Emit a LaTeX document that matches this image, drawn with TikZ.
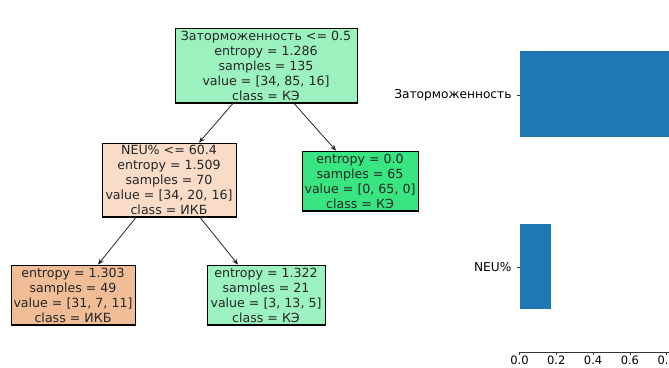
\documentclass[tikz,border=0pt]{standalone}
\usepackage{fontspec}
\setmainfont{DejaVu Sans}
\usetikzlibrary{arrows.meta}
\definecolor{cRoot}{RGB}{155,242,191}
\definecolor{cNeu}{RGB}{248,220,200}
\definecolor{cLeafG}{RGB}{57,229,129}
\definecolor{cLL}{RGB}{241,189,151}
\definecolor{cLR}{RGB}{156,242,192}
\definecolor{barblue}{RGB}{31,119,180}
\tikzset{
  treebox/.style={draw=black, line width=0.8pt, inner sep=0pt, align=center,
    font=\fontsize{12.6}{15}\selectfont, text=black!85},
  edge/.style={draw=black!85, line width=0.8pt, -{Stealth[length=6pt,width=5pt]}},
  shadowline/.style={line width=2pt, black},
  ticklab/.style={font=\fontsize{11.5}{13}\selectfont, text=black, inner sep=1pt},
  featlab/.style={font=\fontsize{12.2}{14}\selectfont, text=black, anchor=east},
  bar/.style={fill=barblue, draw=none}
}
\begin{document}
\begin{tikzpicture}[x=1pt,y=-1pt]
\useasboundingbox (0,0) rectangle (669,367);
\clip (0,0) rectangle (669,367);
% tree nodes
\node[treebox, fill=cRoot, minimum width=182pt, minimum height=75pt] (root) at (266,65.5)
  {Заторможенность <= 0.5\\entropy = 1.286\\samples = 135\\value = [34, 85, 16]\\class = КЭ};
\node[treebox, fill=cNeu, minimum width=134pt, minimum height=74pt] (neu) at (169,180)
  {NEU\% <= 60.4\\entropy = 1.509\\samples = 70\\value = [34, 20, 16]\\class = ИКБ};
\node[treebox, fill=cLeafG, minimum width=116pt, minimum height=60pt] (rleaf) at (360,181)
  {entropy = 0.0\\samples = 65\\value = [0, 65, 0]\\class = КЭ};
\node[treebox, fill=cLL, minimum width=124pt, minimum height=60pt] (ll) at (73,295)
  {entropy = 1.303\\samples = 49\\value = [31, 7, 11]\\class = ИКБ};
\node[treebox, fill=cLR, minimum width=118pt, minimum height=60pt] (lr) at (266,295)
  {entropy = 1.322\\samples = 21\\value = [3, 13, 5]\\class = КЭ};
% shadows
\foreach \n in {root,neu,rleaf,ll,lr}{
  \draw[shadowline] (\n.south west) -- (\n.south east);
}
% edges
\draw[edge] ([xshift=-33pt]root.south) -- ([xshift=30pt]neu.north);
\draw[edge] ([xshift=28pt]root.south) -- ([xshift=-24pt]rleaf.north);
\draw[edge] ([xshift=-33pt]neu.south) -- ([xshift=25pt]ll.north);
\draw[edge] ([xshift=31pt]neu.south) -- ([xshift=-28pt]lr.north);
% bar chart
\coordinate (ax0) at (520,352);
\coordinate (ax1) at (669,352);
\path[bar] (520,51) rectangle (669,137);
\path[bar] (520,224) rectangle (551,309);
\draw[black!80, line width=1pt] (ax0) -- (ax1);
\foreach \v/\x in {0.0/519.5,0.2/556.3,0.4/593.1,0.6/629.9,0.8/666.7}{
  \draw[black!80, line width=0.6pt] (\x,352) -- (\x,355);
  \node[ticklab] at (\x,360) {\v};
}
\draw[black!80, line width=0.6pt] (516.5,95) -- (520,95);
\draw[black!80, line width=0.6pt] (516.5,267) -- (520,267);
\node[featlab] (f1) at (515,95) {Заторможенность};
\node[featlab] (f2) at (515,267) {NEU\%};
\end{tikzpicture}
\end{document}
